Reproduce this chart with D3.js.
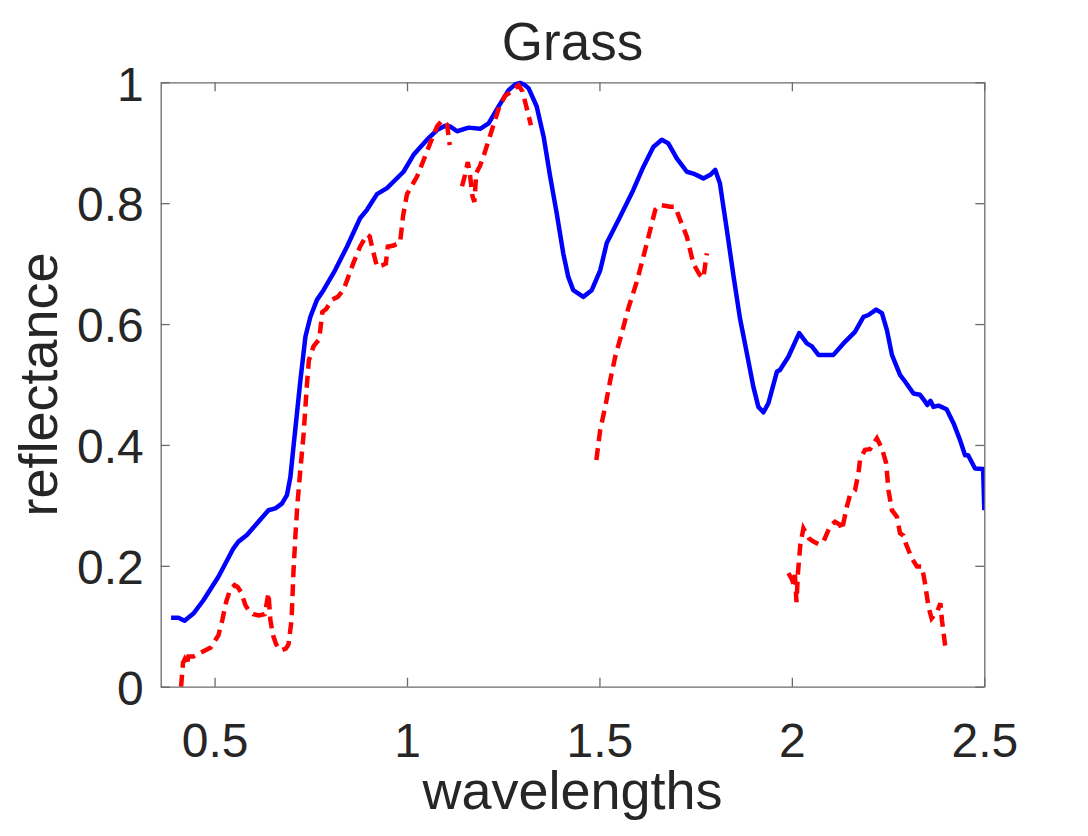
<!DOCTYPE html>
<html>
<head>
<meta charset="utf-8">
<script src="https://cdn.jsdelivr.net/npm/d3@7"></script>
<style>
  body { margin: 0; background: #fff; }
  svg text { font-family: "Liberation Sans", Arial, sans-serif; fill: #262626; }
</style>
</head>
<body>
<script>
// spectrum 1 (solid blue), continuous
var blueWl = [0.387,0.406,0.422,0.445,0.471,0.510,0.549,0.562,0.584,0.610,0.640,0.658,0.675,0.688,0.697,0.705,0.714,0.723,0.727,0.736,
  0.749,0.766,0.783,0.813,0.844,0.878,0.896,0.922,0.948,0.991,1.017,1.052,1.078,1.099,1.112,1.130,1.160,1.190,1.212,1.238,
  1.264,1.282,1.294,1.305,1.316,1.337,1.355,1.372,1.389,1.406,1.419,1.432,1.458,1.480,1.502,1.519,1.554,1.588,1.614,1.640,
  1.662,1.679,1.701,1.727,1.744,1.770,1.788,1.801,1.813,1.831,1.848,1.865,1.883,1.900,1.913,1.926,1.939,1.961,1.969,1.991,
  2.019,2.039,2.052,2.069,2.108,2.134,2.164,2.186,2.199,2.219,2.234,2.247,2.260,2.281,2.294,2.316,2.333,2.346,2.352,2.360,
  2.368,2.381,2.402,2.420,2.437,2.450,2.458,2.476,2.497,2.500];
var blueVal = [0.114,0.114,0.109,0.121,0.143,0.182,0.229,0.240,0.251,0.270,0.292,0.295,0.303,0.317,0.347,0.397,0.452,0.507,0.529,0.579,
  0.612,0.640,0.656,0.689,0.728,0.775,0.789,0.815,0.825,0.852,0.880,0.905,0.921,0.928,0.927,0.919,0.925,0.923,0.932,0.960,
  0.987,0.997,0.999,0.996,0.990,0.960,0.910,0.844,0.783,0.717,0.678,0.656,0.645,0.656,0.689,0.734,0.778,0.822,0.860,0.893,
  0.905,0.899,0.874,0.852,0.849,0.841,0.847,0.855,0.833,0.756,0.681,0.610,0.552,0.496,0.463,0.454,0.469,0.521,0.524,0.546,
  0.585,0.568,0.563,0.549,0.549,0.568,0.587,0.612,0.615,0.624,0.618,0.590,0.549,0.516,0.505,0.485,0.483,0.472,0.466,0.473,
  0.463,0.465,0.459,0.436,0.408,0.383,0.383,0.361,0.360,0.292];

// spectrum 2 (dashed red), null = removed bands
var redWl = [0.413,0.418,0.422,0.428,0.432,0.445,0.460,0.475,0.490,0.500,0.510,0.520,0.530,0.540,0.552,0.560,0.570,0.580,0.590,0.600,
  0.615,0.630,0.636,0.640,0.645,0.652,0.660,0.672,0.685,0.692,0.700,0.705,0.710,0.715,0.723,0.731,0.740,0.745,0.757,0.772,
  0.780,0.790,0.805,0.820,0.833,0.840,0.860,0.878,0.896,0.903,0.912,0.922,0.935,0.945,0.950,0.965,0.982,0.990,1.000,1.026,
  1.043,1.060,1.078,1.091,1.104,1.111,
  1.127,
  1.143,1.150,1.158,1.163,1.170,1.175,1.180,1.190,1.200,1.210,1.225,1.240,1.255,1.268,1.280,1.290,1.300,1.310,1.322,
  1.400,
  1.492,1.502,1.515,1.528,1.541,1.558,1.575,1.597,1.614,1.632,1.645,1.658,1.684,1.697,1.710,1.727,1.744,1.760,1.770,1.779,
  1.900,
  1.991,2.000,2.004,2.008,2.012,2.016,2.022,2.030,2.045,2.056,2.069,2.082,2.099,2.112,2.125,2.130,2.143,2.151,2.164,2.173,
  2.177,2.190,2.203,2.221,2.234,2.245,2.251,2.260,2.273,2.281,2.290,2.296,2.312,2.325,2.338,2.346,2.355,2.363,2.378,2.386,
  2.390,2.399];
var redVal = [0.000,0.040,0.045,0.035,0.050,0.050,0.055,0.060,0.065,0.075,0.085,0.110,0.140,0.160,0.168,0.165,0.155,0.135,0.125,0.120,
  0.118,0.120,0.140,0.155,0.110,0.085,0.070,0.060,0.063,0.070,0.110,0.190,0.250,0.300,0.360,0.415,0.500,0.540,0.563,0.575,
  0.620,0.625,0.640,0.645,0.655,0.665,0.700,0.728,0.748,0.745,0.720,0.695,0.697,0.700,0.728,0.730,0.735,0.780,0.815,0.844,
  0.871,0.899,0.927,0.937,0.930,0.896,
  null,
  0.828,0.845,0.868,0.850,0.812,0.802,0.850,0.862,0.880,0.900,0.930,0.960,0.978,0.983,0.990,0.995,0.985,0.960,0.929,
  null,
  0.375,0.425,0.463,0.507,0.546,0.585,0.626,0.670,0.711,0.756,0.789,0.797,0.794,0.794,0.772,0.745,0.700,0.682,0.676,0.717,
  null,
  0.188,0.178,0.170,0.185,0.140,0.190,0.235,0.262,0.245,0.240,0.236,0.240,0.265,0.273,0.268,0.259,0.298,0.317,0.325,0.353,
  0.375,0.392,0.393,0.411,0.394,0.370,0.325,0.292,0.281,0.254,0.250,0.237,0.212,0.199,0.199,0.171,0.132,0.113,0.125,0.138,
  0.110,0.064];

var xTicks = [0.5, 1, 1.5, 2, 2.5];
var yTicks = [0, 0.2, 0.4, 0.6, 0.8, 1];

var W = 1088, H = 836;
var pLeft = 160.7, pRight = 984.3, pTop = 82.3, pBottom = 686.7;

var svg = d3.select("body").append("svg").attr("width", W).attr("height", H);

var x = d3.scaleLinear().domain([0.36, 2.5]).range([pLeft, pRight]);
var y = d3.scaleLinear().domain([0, 1]).range([pBottom, pTop]);

svg.append("clipPath").attr("id", "plotclip")
  .append("rect").attr("x", pLeft).attr("y", pTop - 3).attr("width", pRight - pLeft).attr("height", pBottom - pTop + 3);

var fmt = function(d){ return String(d); };

// axes, ticks pointing inward
var gx = svg.append("g").attr("transform", "translate(0," + pBottom + ")")
  .call(d3.axisBottom(x).tickValues(xTicks).tickFormat(fmt).tickSizeInner(-9).tickSizeOuter(0).tickPadding(36));
var gy = svg.append("g").attr("transform", "translate(" + pLeft + ",0)")
  .call(d3.axisLeft(y).tickValues(yTicks).tickFormat(fmt).tickSizeInner(-9).tickSizeOuter(0).tickPadding(17));
var gt = svg.append("g").attr("transform", "translate(0," + pTop + ")")
  .call(d3.axisTop(x).tickValues(xTicks).tickFormat("").tickSizeInner(-9).tickSizeOuter(0));
var gr = svg.append("g").attr("transform", "translate(" + pRight + ",0)")
  .call(d3.axisRight(y).tickValues(yTicks).tickFormat("").tickSizeInner(-9).tickSizeOuter(0));

[gx, gy, gt, gr].forEach(function(g){
  g.select(".domain").attr("stroke", "#6a6a6a").attr("stroke-width", 1.3);
  g.selectAll(".tick line").attr("stroke", "#6a6a6a").attr("stroke-width", 1.3);
  g.selectAll("text").attr("font-size", 48).attr("fill", "#262626")
    .style("font-family", "'Liberation Sans', Arial, sans-serif");
});
gx.selectAll(".tick text").attr("dy", "0.71em");
gy.selectAll(".tick text").attr("dy", "0.37em");

// lines
var blueData = blueWl.map(function(w, i){ return [w, blueVal[i]]; });
var redData = redWl.map(function(w, i){ return [w, redVal[i]]; });

var line = d3.line()
  .defined(function(d){ return d[1] !== null; })
  .x(function(d){ return x(d[0]); })
  .y(function(d){ return y(d[1]); });

var plot = svg.append("g").attr("clip-path", "url(#plotclip)");

plot.append("path").datum(blueData)
  .attr("d", line).attr("fill", "none")
  .attr("stroke", "#0000ff").attr("stroke-width", 4.5)
  .attr("stroke-linejoin", "round");

plot.append("path").datum(redData)
  .attr("d", line).attr("fill", "none")
  .attr("stroke", "#ff0000").attr("stroke-width", 4.5)
  .attr("stroke-dasharray", "12,7");

// title and labels
svg.append("text").attr("x", (pLeft + pRight) / 2).attr("y", 60)
  .attr("text-anchor", "middle").attr("font-size", 53).text("Grass");

svg.append("text").attr("x", (pLeft + pRight) / 2).attr("y", 809)
  .attr("text-anchor", "middle").attr("font-size", 54).text("wavelengths");

svg.append("text")
  .attr("transform", "translate(57," + ((pTop + pBottom) / 2) + ") rotate(-90)")
  .attr("text-anchor", "middle").attr("font-size", 54).text("reflectance");
</script>
</body>
</html>
